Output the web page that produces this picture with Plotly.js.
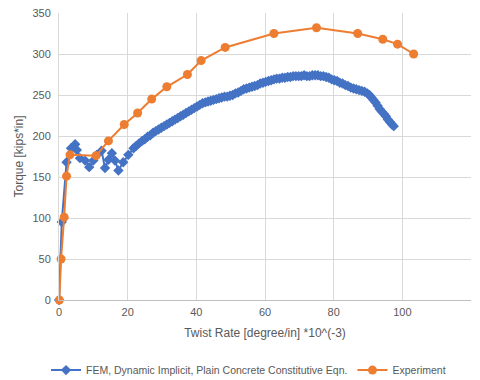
<!DOCTYPE html>
<html>
<head>
<meta charset="utf-8">
<script src="https://cdn.plot.ly/plotly-3.0.1.min.js"></script>
<style>html,body{margin:0;padding:0;background:#fff;}#chart{width:480px;height:380px;}</style>
</head>
<body>
<div id="chart"></div>
<script>
const femName = "FEM, Dynamic Implicit, Plain Concrete Constitutive Eqn.";
const expName = "Experiment";

const femX = [0, 0.8, 2.2, 3.5, 4.7, 5.2, 6.1, 7.6, 8.8, 10, 11, 12.4, 13.4, 14.4, 15.4, 16.3, 17.3, 18.7, 20.2, 21.7,
  22.5, 23.3, 24.2, 25, 25.8, 26.6, 27.4, 28.2, 29, 29.8, 30.6, 31.4, 32.2, 33, 33.8, 34.6, 35.4, 36.2, 37, 37.8,
  38.6, 39.4, 40.2, 41, 41.8, 42.6, 43.4, 44.2, 45, 45.8, 46.6, 47.4, 48.2, 49, 49.8, 50.6, 51.4, 52.2, 53, 53.8,
  54.6, 55.4, 56.2, 57, 57.8, 58.6, 59.4, 60.2, 61, 61.8, 62.6, 63.4, 64.2, 65, 65.8, 66.6, 67.4, 68.2, 69, 69.8,
  70.6, 71.4, 72.2, 73, 73.8, 74.6, 75.4, 76.2, 77, 77.8, 78.6, 79.4, 80.2, 81, 81.8, 82.6, 83.4, 84.2, 85, 85.8,
  86.6, 87.4, 88.2, 89, 89.8, 90.4, 91, 91.6, 92.2, 92.8, 93.4, 94, 94.6, 95.2, 95.8, 96.4, 97, 97.5];
const femY = [0, 95, 168, 185, 190, 183, 173, 170, 162, 170, 177, 182, 161, 171, 179, 170, 158, 168, 177, 185,
  188, 191, 194, 196, 199, 201, 204, 206, 208, 210, 212, 214, 216, 218, 220, 222, 224, 226, 228, 230,
  232, 234, 236, 238, 240, 241, 242, 243, 244, 245, 246, 247, 248, 248, 249, 250, 252, 253, 255, 257,
  258, 259, 260, 261, 262, 264, 265, 266, 267, 268, 269, 270, 270, 271, 271, 272, 272, 273, 273, 273,
  273, 274, 273, 273, 274, 274, 274, 273, 273, 272, 271, 269, 268, 267, 265, 264, 262, 261, 259, 258,
  257, 256, 255, 254, 252, 250, 247, 244, 241, 237, 233, 230, 227, 224, 220, 217, 214, 212];

const expX = [0.1, 0.6, 1.5, 2.2, 3.2, 10.8, 14.4, 19, 22.9, 27, 31.4, 37.4, 41.4, 48.4, 62.6, 75, 87, 94.3, 98.6, 103.3];
const expY = [0, 50, 101, 151, 177, 176, 194, 214, 228, 245, 260, 275, 292, 308, 325, 332, 325, 318, 312, 300];

const xTicks = [0, 20, 40, 60, 80, 100, 120];
const yTicks = [0, 50, 100, 150, 200, 250, 300, 350];
const xTitle = "Twist Rate [degree/in] *10^(-3)";
const yTitle = "Torque [kips*in]";

const fontFam = "Liberation Sans, Arial, sans-serif";
const txt = "#595959";

const traces = [
  {x: femX, y: femY, name: femName, type: "scatter", mode: "lines+markers", cliponaxis: false,
   line: {color: "#4472C4", width: 2},
   marker: {symbol: "diamond", size: 8, color: "#4472C4"}},
  {x: expX, y: expY, name: expName, type: "scatter", mode: "lines+markers", cliponaxis: false,
   line: {color: "#ED7D31", width: 2},
   marker: {symbol: "circle", size: 9, color: "#ED7D31"}}
];

const layout = {
  width: 480, height: 380,
  margin: {l: 59, r: 9, t: 13, b: 80, autoexpand: false},
  paper_bgcolor: "#fff", plot_bgcolor: "#fff",
  font: {family: fontFam, size: 11, color: txt},
  showlegend: true,
  legend: {orientation: "h", x: 0.46, xanchor: "center", yref: "container", y: 0.026, yanchor: "middle",
           font: {family: fontFam, size: 10.5, color: txt}, itemwidth: 30, traceorder: "normal"},
  xaxis: {range: [0, 120], tickvals: xTicks, ticktext: xTicks.map(String), automargin: false,
          showgrid: true, gridcolor: "#d9d9d9", gridwidth: 1,
          zeroline: false, showline: true, linecolor: "#bfbfbf", linewidth: 1,
          ticks: "", tickfont: {size: 11, color: txt}, ticklabelstandoff: 2,
          title: {text: xTitle, font: {size: 12, color: txt}, standoff: 11}},
  yaxis: {range: [0, 350], tickvals: yTicks, ticktext: yTicks.map(String), automargin: false,
          showgrid: true, gridcolor: "#d9d9d9", gridwidth: 1,
          zeroline: false, showline: true, linecolor: "#d9d9d9", linewidth: 1,
          ticks: "", tickfont: {size: 11, color: txt}, ticklabelstandoff: 5,
          title: {text: yTitle, font: {size: 12, color: txt}, standoff: 6}}
};

Plotly.newPlot("chart", traces, layout, {displayModeBar: false, staticPlot: true});
</script>
</body>
</html>
